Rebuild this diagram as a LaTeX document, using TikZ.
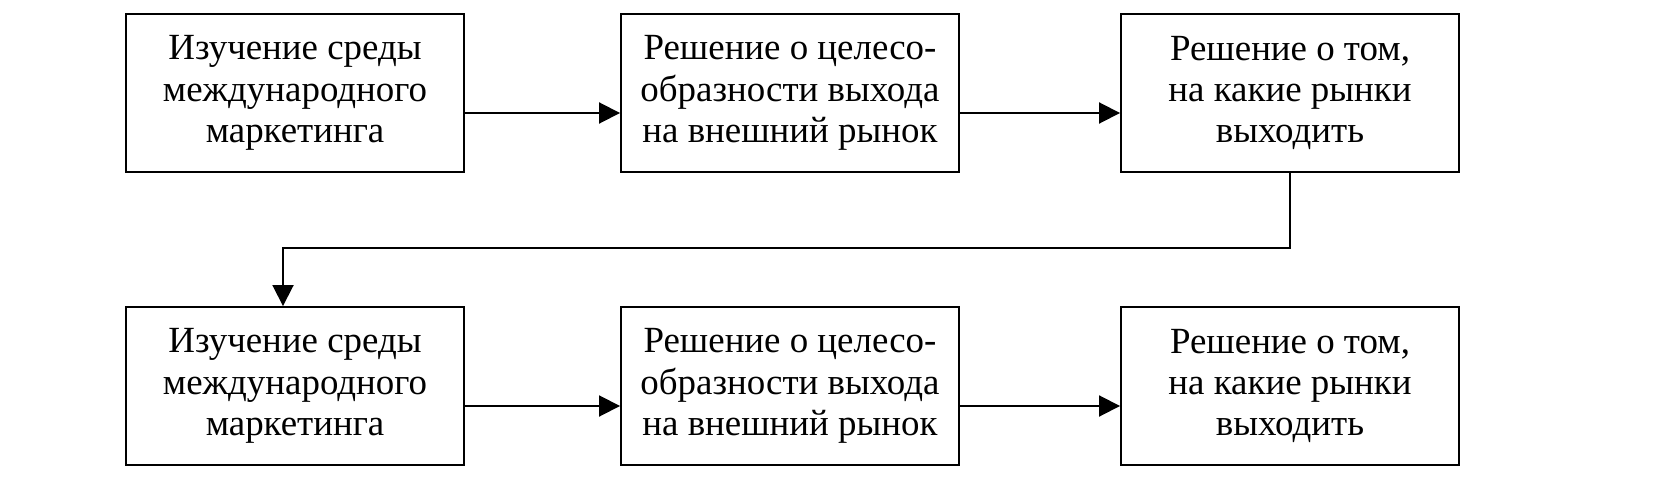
\documentclass[tikz,border=0pt]{standalone}
\usepackage{fontspec}
\setmainfont{Liberation Serif}
\usetikzlibrary{arrows.meta}
\begin{document}
\begin{tikzpicture}[box/.style={rectangle, black, draw, line width=1.1pt, minimum width=6.76cm, minimum height=3.16cm, inner sep=0pt, align=center, font=\fontsize{21}{23.5}\selectfont},
    link/.style={line width=1.1pt, -{Triangle[length=0.42cm, width=0.42cm]}}]
        \useasboundingbox (0, 0) rectangle (33.1, 9.66);
        \draw (5.9, 7.8) node[box](a1){Изучение среды\\международного\\маркетинга}
       (15.8, 7.8) node[box](a2){Решение о целесо-\\образности выхода\\на внешний рынок}
       (25.8, 7.8) node[box](a3){Решение о том,\\на какие рынки\\выходить}
       (5.9, 1.94) node[box](b1){Изучение среды\\международного\\маркетинга}
       (15.8, 1.94) node[box](b2){Решение о целесо-\\образности выхода\\на внешний рынок}
       (25.8, 1.94) node[box](b3){Решение о том,\\на какие рынки\\выходить};
       
       \draw[link] ([yshift=-0.4cm]a1.east) -- ([yshift=-0.4cm]a2.west);
       \draw[link] ([yshift=-0.4cm]a2.east) -- ([yshift=-0.4cm]a3.west);
       \draw[link] (a3.south) -- (a3.south |- 0, 4.7) -| ([xshift=-0.24cm]b1.north);
       \draw[link] ([yshift=-0.4cm]b1.east) -- ([yshift=-0.4cm]b2.west);
       \draw[link] ([yshift=-0.4cm]b2.east) -- ([yshift=-0.4cm]b3.west);
    \end{tikzpicture}
\end{document}
